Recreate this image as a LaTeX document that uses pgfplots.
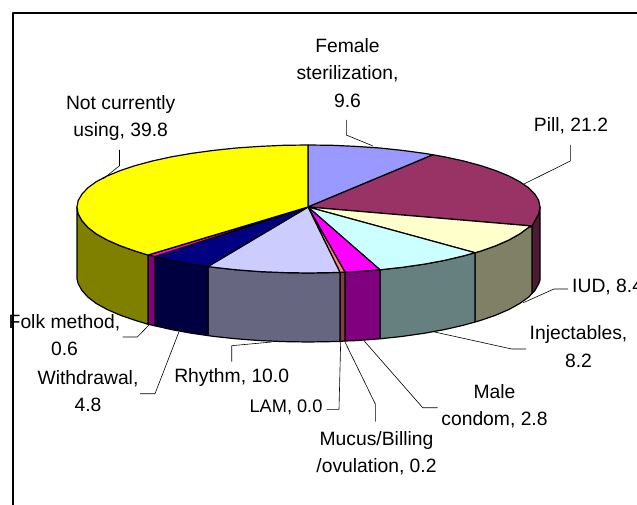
\documentclass[border=0pt]{standalone}
\usepackage{pgfplots}
\pgfplotsset{compat=1.18}
\usepackage{fontspec}
\setmainfont{Liberation Sans}
\definecolor{cBlue}{HTML}{9999FF}
\definecolor{cPill}{HTML}{993366}
\definecolor{cPillS}{HTML}{4D1A33}
\definecolor{cIud}{HTML}{FFFFCC}
\definecolor{cIudS}{HTML}{808066}
\definecolor{cInj}{HTML}{CCFFFF}
\definecolor{cInjS}{HTML}{668080}
\definecolor{cMale}{HTML}{FF00FF}
\definecolor{cMaleS}{HTML}{800080}
\definecolor{cMuc}{HTML}{FF8080}
\definecolor{cMucS}{HTML}{804040}
\definecolor{cRhy}{HTML}{CCCCFF}
\definecolor{cRhyS}{HTML}{666680}
\definecolor{cWit}{HTML}{000080}
\definecolor{cWitS}{HTML}{000040}
\definecolor{cYel}{HTML}{FFFF00}
\definecolor{cYelS}{HTML}{808000}
\tikzset{
  slice/.style={draw=black, line width=1.2pt, fill=#1},
  leader/.style={draw=black, line width=0.6pt},
  txt/.style={font=\fontsize{19.3}{27.5}\selectfont, align=center, inner sep=0pt, text=black},
}
\begin{document}
\begin{tikzpicture}
\useasboundingbox (0,0) rectangle (637pt,505pt);
\clip (0,0) rectangle (637pt,505pt);
\begin{axis}[
  at={(0,0)}, anchor=south west,
  scale only axis, width=637pt, height=505pt,
  xmin=0, xmax=637, ymin=0, ymax=505, y dir=reverse,
  hide axis, clip=false,
  every axis plot/.append style={no markers, line join=round},
]
% frame
\addplot[draw=black, line width=1.4pt] coordinates {(13,510) (13,13) (640,13)};
% side faces
\addplot[slice=cPillS] coordinates {(532,226) (534.9,220.7) (538.7,213.9) (540,207) (540,280) (538.7,283.8) (534.9,290.5) (532,293.5)} --cycle;
\addplot[slice=cIudS] coordinates {(532,226) (528.6,227.4) (519.9,233.8) (508.9,240) (495.7,245.8) (480.4,251.2) (475,252.7) (475,322) (480.4,320.5) (495.7,315.2) (508.9,309.5) (519.9,303.4) (528.6,297.1) (532,293.5)} --cycle;
\addplot[slice=cInjS] coordinates {(475,252.7) (463.2,256) (444.4,260.4) (424,264.2) (402.4,267.3) (380,269.8) (380,338.8) (402.4,336.4) (424,333.3) (444.4,329.6) (463.2,325.3) (475,322)} --cycle;
\addplot[slice=cMaleS] coordinates {(380,269.8) (356.2,271.6) (345,272.2) (345,341) (356.2,340.6) (380,338.8)} --cycle;
\addplot[slice=cMucS] coordinates {(345,272.2) (340,272.4) (340,341.4) (345,341)} --cycle;
\addplot[slice=cRhyS] coordinates {(340,272.4) (332.2,272.6) (308,273) (283.8,272.6) (259.8,271.6) (236.3,269.8) (213.6,267.3) (208,266.5) (208,335.6) (213.6,336.4) (236.3,338.8) (259.8,340.6) (283.8,341.6) (308,342) (332.2,341.6) (340,341.4)} --cycle;
\addplot[slice=cWitS] coordinates {(208,266.5) (192,264.2) (171.6,260.4) (155,256.5) (155,325.8) (171.6,329.6) (192,333.3) (208,335.6)} --cycle;
\addplot[slice=cMaleS] coordinates {(155,256.5) (152.8,256) (148,255) (148,324.2) (152.8,325.3) (155,325.8)} --cycle;
\addplot[slice=cYelS] coordinates {(148,255) (135.6,251.2) (120.3,245.8) (107.1,240) (96.1,233.8) (87.9,227.4) (82,220.7) (78.2,213.9) (77,207) (77,279) (78.2,283.8) (82,290.5) (87.9,297.1) (96.1,303.4) (107.1,309.5) (120.3,315.2) (135.6,320.5) (148,324.2)} --cycle;
% top faces
\addplot[slice=cBlue] coordinates {(308,207) (308,145) (332.2,145.3) (356.2,146.4) (379.7,148) (402.4,150.4) (424,153.3) (433,154.8)} --cycle;
\addplot[slice=cPill] coordinates {(308,207) (433,154.8) (444.4,156.8) (463.2,160.9) (480.4,165.5) (495.7,170.6) (508.9,176) (519.9,181.8) (528.6,187.8) (534.9,194.1) (538.7,200.5) (540,207) (538.7,213.9) (534.9,220.7) (532,226)} --cycle;
\addplot[slice=cIud] coordinates {(308,207) (532,226) (528.6,227.4) (519.9,233.8) (508.9,240) (495.7,245.8) (480.4,251.2) (475,252.7)} --cycle;
\addplot[slice=cInj] coordinates {(308,207) (475,252.7) (463.2,256) (444.4,260.4) (424,264.2) (402.4,267.3) (380,269.8)} --cycle;
\addplot[slice=cMale] coordinates {(308,207) (380,269.8) (356.2,271.6) (345,272.2)} --cycle;
\addplot[slice=cMuc] coordinates {(308,207) (345,272.2) (340,272.4)} --cycle;
\addplot[slice=cRhy] coordinates {(308,207) (340,272.4) (332.2,272.6) (308,273) (283.8,272.6) (259.8,271.6) (236.3,269.8) (213.6,267.3) (208,266.5)} --cycle;
\addplot[slice=cWit] coordinates {(308,207) (208,266.5) (192,264.2) (171.6,260.4) (155,256.5)} --cycle;
\addplot[slice=cMale] coordinates {(308,207) (155,256.5) (152.8,256) (148,255)} --cycle;
\addplot[slice=cYel] coordinates {(308,207) (148,255) (135.6,251.2) (120.3,245.8) (107.1,240) (96.1,233.8) (87.9,227.4) (82,220.7) (78.2,213.9) (77,207) (78.2,200.5) (82,194.1) (87.9,187.8) (96.1,181.8) (107.1,176) (120.3,170.6) (135.6,165.5) (152.8,160.9) (171.6,156.8) (192,153.3) (213.6,150.4) (236.3,148) (259.8,146.4) (283.8,145.3) (308,145)} --cycle;
% leader lines
\addplot[leader] coordinates {(119.5,150) (119.5,165.7) (103,179)};
\addplot[leader] coordinates {(346.3,120) (346.3,135) (373,146)};
\addplot[leader] coordinates {(570.3,145) (570.3,161) (524,184)};
\addplot[leader] coordinates {(568,289) (554,289) (523.3,302.7)};
\addplot[leader] coordinates {(526,349) (511.7,349) (433.3,331.7)};
\addplot[leader] coordinates {(437.7,407.7) (422.7,407.7) (364,340.7)};
\addplot[leader] coordinates {(375.3,421.7) (375.3,404) (345,342)};
\addplot[leader] coordinates {(326.5,409.3) (339,409.3) (340.7,341)};
\addplot[leader] coordinates {(231.7,361.7) (231.7,345.7) (271.7,342)};
\addplot[leader] coordinates {(140,393.7) (155,393.7) (179,331.7)};
\addplot[leader] coordinates {(122.7,337) (137.3,337) (149,325)};
% labels
\node[txt] at (axis cs:347.5,73) {Female\\sterilization,\\9.6};
\node[txt] at (axis cs:571,126) {Pill, 21.2};
\node[txt] at (axis cs:120.7,118) {Not currently\\using, 39.8};
\node[txt,anchor=west] at (axis cs:572,287) {IUD, 8.4};
\node[txt] at (axis cs:578.5,346.7) {Injectables,\\8.2};
\node[txt] at (axis cs:494.5,406) {Male\\condom, 2.8};
\node[txt] at (axis cs:376.5,453) {Mucus/Billing\\/ovulation, 0.2};
\node[txt,font=\fontsize{18.2}{27.5}\selectfont] at (axis cs:286,407) {LAM, 0.0};
\node[txt] at (axis cs:231.7,378) {Rhythm, 10.0};
\node[txt] at (axis cs:88,391) {Withdrawal,\\4.8};
\node[txt] at (axis cs:64.5,335) {Folk method,\\0.6};
\end{axis}
\end{tikzpicture}
\end{document}
